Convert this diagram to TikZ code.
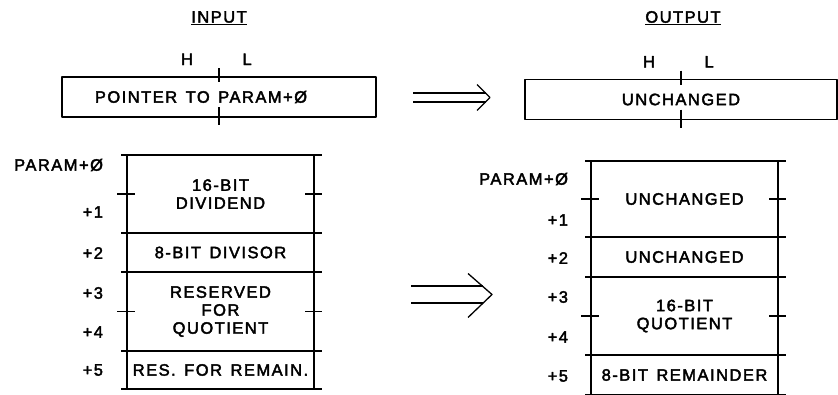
\documentclass[tikz,border=0pt]{standalone}
\usepackage{fontspec}
\newfontfamily\dgmfont[LetterSpace=9, WordSpace=1.4, FakeBold=2.5]{Liberation Sans}
\usetikzlibrary{positioning}

\begin{document}
\begin{tikzpicture}
    [x = 1pt, y = -1pt, line width = 1.3pt, line join = round,
     every node/.style = {font = \dgmfont\fontsize{16.5}{18}\selectfont, inner sep = 0pt, outer sep = 0pt},
     wordbox/.style = {draw, minimum height = 40pt},
     cell/.style = {draw, align = center, minimum width = 187pt}]
    \useasboundingbox (0,0) rectangle (838,394);

    % titles
    \node (intitle) at (219,18) {\underline{INPUT}};
    \node (outtitle) at (683,18) {\underline{OUTPUT}};

    % pointer words
    \node[wordbox, minimum width = 314pt] (inptr) at (219,97) {POINTER TO PARAM+Ø\hspace*{36pt}};
    \node[wordbox, minimum width = 312pt] (outptr) at (681,99.5) {UNCHANGED};
    \foreach \w/\t in {inptr/in, outptr/out} {
      \node[above = 12pt of \w.north, xshift = -32pt] (\t H) {H};
      \node[above = 12pt of \w.north, xshift = 28pt] (\t L) {L};
      \draw (\w.north) ++(0,-9) -- ++(0,14);
      \draw (\w.south) ++(0,-10) -- ++(0,18);
    }

    % input parameter block
    \node[cell, minimum height = 78pt] (lc1) at (220.5,194) {16-BIT\\DIVIDEND};
    \node[cell, minimum height = 39pt] (lc2) at (220.5,252.5) {8-BIT DIVISOR};
    \node[cell, minimum height = 79pt] (lc3) at (220.5,311.5) {RESERVED\\FOR\\QUOTIENT};
    \node[cell, minimum height = 38pt] (lc4) at (220.5,370) {RES. FOR REMAIN.};

    % output parameter block
    \node[cell, minimum height = 76pt] (rc1) at (684.5,199) {UNCHANGED};
    \node[cell, minimum height = 40pt] (rc2) at (684.5,257) {UNCHANGED};
    \node[cell, minimum height = 78pt] (rc3) at (684.5,316) {16-BIT\\QUOTIENT};
    \node[cell, minimum height = 40pt] (rc4) at (684.5,375) {8-BIT REMAINDER};

    \foreach \c in {lc1,lc2,lc3,lc4,rc1,rc2,rc3,rc4}
      \draw ([xshift = -6pt]\c.north west) -- ([xshift = 8pt]\c.north east);
    \foreach \c in {lc4,rc4}
      \draw ([xshift = -6pt]\c.south west) -- ([xshift = 8pt]\c.south east);
    \foreach \c in {lc1,lc3,rc1,rc3} {
      \draw ([xshift = -10pt]\c.west) -- ([xshift = 8pt]\c.west);
      \draw ([xshift = -9pt]\c.east) -- ([xshift = 8pt]\c.east);
    }

    % offsets
    \node[anchor = east] (lo0) at (103,165) {PARAM+Ø};
    \foreach \n/\y in {1/212,2/253,3/293,4/332,5/370}
      \node[anchor = east] (lo\n) at (103,\y) {+\n};
    \node[anchor = east] (ro0) at (568,179) {PARAM+Ø};
    \foreach \n/\y in {1/220,2/258,3/297,4/337,5/376}
      \node[anchor = east] (ro\n) at (568,\y) {+\n};

    % double arrows
    \coordinate (ptrfrom) at (413,97.5);
    \coordinate (ptrto) at (490,97.5);
    \draw[double, double distance = 7.6pt] (ptrfrom) -- ([xshift = -4pt]ptrto);
    \draw (ptrto) ++(-13,-13) -- (ptrto) -- ++(-13,13);

    \coordinate (blkfrom) at (411,294.5);
    \coordinate (blkto) at (492,294.5);
    \draw[double, double distance = 15.7pt] (blkfrom) -- ([xshift = -9pt]blkto);
    \draw (blkto) ++(-24,-21) -- (blkto) -- ++(-24,23);
\end{tikzpicture}
\end{document}
